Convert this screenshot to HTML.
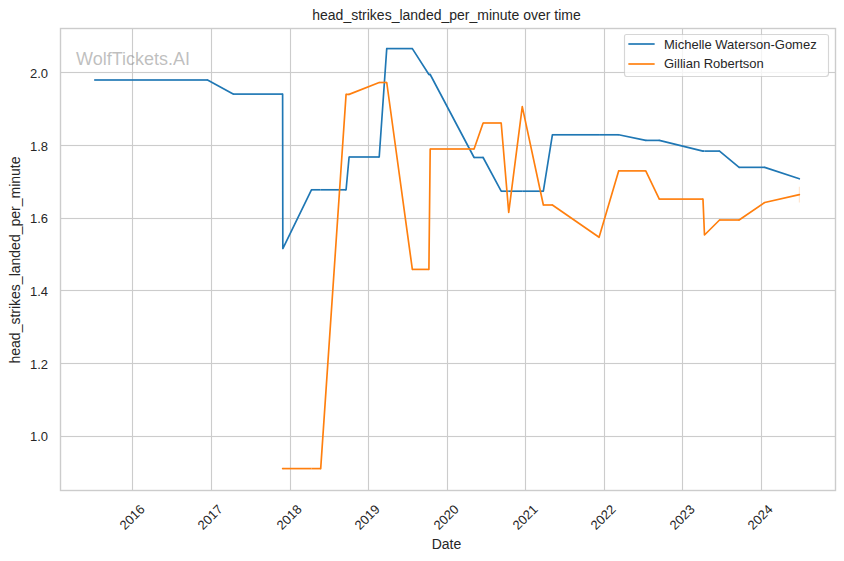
<!DOCTYPE html>
<html lang="en">
<head>
<meta charset="utf-8">
<title>head_strikes_landed_per_minute over time</title>
<style>
html,body{margin:0;padding:0;background:#ffffff;}
body{width:844px;height:561px;overflow:hidden;font-family:"Liberation Sans",sans-serif;}
svg{display:block;}
svg text{font-family:"Liberation Sans",sans-serif;}
</style>
</head>
<body>
<svg width="844" height="561" viewBox="0 0 844 561" role="img" aria-labelledby="ct cd">
<title id="ct">head_strikes_landed_per_minute over time</title>
<desc id="cd">Line chart (WolfTickets.AI). X axis: Date, 2016 to 2024. Y axis: head_strikes_landed_per_minute, 1.0 to 2.0. Series: Michelle Waterson-Gomez (blue), Gillian Robertson (orange).</desc>
<rect width="844" height="561" fill="#ffffff"/>
<g id="grid" fill="none" stroke="#cccccc" stroke-width="1.111">
<path d="M132.5 490V28"/>
<path d="M211.5 490V28"/>
<path d="M290.5 490V28"/>
<path d="M368.5 490V28"/>
<path d="M447.5 490V28"/>
<path d="M525.5 490V28"/>
<path d="M604.5 490V28"/>
<path d="M682.5 490V28"/>
<path d="M761.5 490V28"/>
<rect x="60" y="435.9444" width="775" height="1.1111" fill="#cccccc" stroke="none"/>
<rect x="60" y="362.9444" width="775" height="1.1111" fill="#cccccc" stroke="none"/>
<rect x="60" y="289.9444" width="775" height="1.1111" fill="#cccccc" stroke="none"/>
<rect x="60" y="217.9444" width="775" height="1.1111" fill="#cccccc" stroke="none"/>
<rect x="60" y="144.9444" width="775" height="1.1111" fill="#cccccc" stroke="none"/>
<rect x="60" y="71.9444" width="775" height="1.1111" fill="#cccccc" stroke="none"/>
</g>
<g id="ticklabels">
<text id="xtick_1" x="30" y="0" font-size="13" fill="#262626" text-anchor="end" transform="translate(124.293 531.293) rotate(-45)">2016</text>
<text id="xtick_2" x="30" y="0" font-size="13" fill="#262626" text-anchor="end" transform="translate(202.293 531.293) rotate(-45)">2017</text>
<text id="xtick_3" x="30" y="0" font-size="13" fill="#262626" text-anchor="end" transform="translate(281.293 531.293) rotate(-45)">2018</text>
<text id="xtick_4" x="30" y="0" font-size="13" fill="#262626" text-anchor="end" transform="translate(359.293 531.293) rotate(-45)">2019</text>
<text id="xtick_5" x="30" y="0" font-size="13" fill="#262626" text-anchor="end" transform="translate(438.293 531.293) rotate(-45)">2020</text>
<text id="xtick_6" x="30" y="0" font-size="13" fill="#262626" text-anchor="end" transform="translate(517.293 531.293) rotate(-45)">2021</text>
<text id="xtick_7" x="30" y="0" font-size="13" fill="#262626" text-anchor="end" transform="translate(595.293 531.293) rotate(-45)">2022</text>
<text id="xtick_8" x="30" y="0" font-size="13" fill="#262626" text-anchor="end" transform="translate(674.293 531.293) rotate(-45)">2023</text>
<text id="xtick_9" x="30" y="0" font-size="13" fill="#262626" text-anchor="end" transform="translate(752.293 531.293) rotate(-45)">2024</text>
<text id="ytick_1" x="48" y="441" font-size="13" fill="#262626" text-anchor="end">1.0</text>
<text id="ytick_2" x="48" y="369" font-size="13" fill="#262626" text-anchor="end">1.2</text>
<text id="ytick_3" x="48" y="296" font-size="13" fill="#262626" text-anchor="end">1.4</text>
<text id="ytick_4" x="48" y="223" font-size="13" fill="#262626" text-anchor="end">1.6</text>
<text id="ytick_5" x="48" y="151" font-size="13" fill="#262626" text-anchor="end">1.8</text>
<text id="ytick_6" x="48" y="78" font-size="13" fill="#262626" text-anchor="end">2.0</text>
<text id="xlabel" x="446.5" y="549" font-size="14" fill="#262626" text-anchor="middle">Date</text>
<text id="ylabel" x="0" y="0" font-size="14" fill="#262626" text-anchor="middle" transform="translate(20 260) rotate(-90)">head_strikes_landed_per_minute</text>
</g>
<path id="ciband" d="M799.356 186.796 L799.356 202.396 L799.356 186.796 L799.356 186.796 L799.356 186.796Z" fill="#ff7f0e" fill-opacity="0.2" stroke="#ff7f0e" stroke-opacity="0.2" stroke-width="1.111" stroke-linejoin="miter"/>
<g id="series0" fill="#1f77b4" stroke="#1f77b4" stroke-width="1.667" stroke-linecap="round" stroke-linejoin="round">
<rect stroke="none" x="94.161" y="79.1622" width="113.377" height="1.6667"/>
<path fill="none" d="M207.538 79.996 L233.138 94.096"/>
<rect stroke="none" x="233.138" y="93.2622" width="49.48" height="1.6667"/>
<path fill="none" d="M282.618 94.096 L282.833 248.546 L311.445 189.796"/>
<rect stroke="none" x="311.445" y="188.9622" width="9.251" height="1.6667"/>
<rect stroke="none" x="320.695" y="188.9622" width="25.385" height="1.6667"/>
<path fill="none" d="M346.081 189.796 L349.092 156.996"/>
<rect stroke="none" x="349.092" y="156.1622" width="30.118" height="1.6667"/>
<path fill="none" d="M379.21 156.996 L386.74 48.596"/>
<rect stroke="none" x="386.74" y="47.7622" width="25.6" height="1.6667"/>
<path fill="none" d="M412.34 48.596 L428.905 74.496"/>
<rect stroke="none" x="428.905" y="73.6622" width="1.291" height="1.6667"/>
<path fill="none" d="M430.196 74.496 L474.082 157.496"/>
<rect stroke="none" x="474.082" y="156.6622" width="9.035" height="1.6667"/>
<path fill="none" d="M483.117 157.496 L501.188 191.196"/>
<rect stroke="none" x="501.188" y="190.3622" width="7.529" height="1.6667"/>
<rect stroke="none" x="508.718" y="190.3622" width="13.553" height="1.6667"/>
<rect stroke="none" x="522.271" y="190.3622" width="21.083" height="1.6667"/>
<path fill="none" d="M543.353 191.196 L552.389 134.796"/>
<rect stroke="none" x="552.389" y="133.9622" width="46.683" height="1.6667"/>
<rect stroke="none" x="599.072" y="133.9622" width="19.577" height="1.6667"/>
<path fill="none" d="M618.648 134.796 L645.754 140.396"/>
<rect stroke="none" x="645.754" y="139.5622" width="13.553" height="1.6667"/>
<path fill="none" d="M659.307 140.396 L702.979 151.096"/>
<rect stroke="none" x="702.979" y="150.2622" width="1.506" height="1.6667"/>
<rect stroke="none" x="704.484" y="150.2622" width="15.059" height="1.6667"/>
<path fill="none" d="M719.543 151.096 L739.12 167.346"/>
<rect stroke="none" x="739.12" y="166.5122" width="25.6" height="1.6667"/>
<path fill="none" d="M764.72 167.346 L799.356 178.796"/>
</g>
<g id="series1" fill="#ff7f0e" stroke="#ff7f0e" stroke-width="1.667" stroke-linecap="round" stroke-linejoin="round">
<path fill="none" d="M282.618 468.596 L282.833 468.596"/>
<rect stroke="none" x="282.833" y="467.7622" width="28.612" height="1.6667"/>
<rect stroke="none" x="311.445" y="467.7622" width="9.251" height="1.6667"/>
<path fill="none" d="M320.695 468.596 L346.081 94.396"/>
<rect stroke="none" x="346.081" y="93.5622" width="3.012" height="1.6667"/>
<path fill="none" d="M349.092 94.396 L379.21 82.496"/>
<rect stroke="none" x="379.21" y="81.6622" width="7.529" height="1.6667"/>
<path fill="none" d="M386.74 82.496 L412.34 269.396"/>
<rect stroke="none" x="412.34" y="268.5622" width="16.565" height="1.6667"/>
<path fill="none" d="M428.905 269.396 L430.196 148.996"/>
<rect stroke="none" x="430.196" y="148.1622" width="43.886" height="1.6667"/>
<path fill="none" d="M474.082 148.996 L483.117 122.996"/>
<rect stroke="none" x="483.117" y="122.1622" width="18.071" height="1.6667"/>
<path fill="none" d="M501.188 122.996 L508.718 212.496 L522.271 106.696 L543.353 204.996"/>
<rect stroke="none" x="543.353" y="204.1622" width="9.035" height="1.6667"/>
<path fill="none" d="M552.389 204.996 L599.072 237.296 L618.648 170.896"/>
<rect stroke="none" x="618.648" y="170.0622" width="27.106" height="1.6667"/>
<path fill="none" d="M645.754 170.896 L659.307 199.096"/>
<rect stroke="none" x="659.307" y="198.2622" width="43.671" height="1.6667"/>
<path fill="none" d="M702.979 199.096 L704.484 234.996 L719.543 219.996"/>
<rect stroke="none" x="719.543" y="219.1622" width="19.577" height="1.6667"/>
<path fill="none" d="M739.12 219.996 L764.72 202.496 L799.356 194.596"/>
</g>
<rect id="spines" x="60.5" y="28.5" width="775" height="462" fill="none" stroke="#cccccc" stroke-width="1.389"/>
<text id="watermark" x="76" y="65" font-size="18" fill="#808080" fill-opacity="0.5">WolfTickets.AI</text>
<text id="title" x="446.5" y="20" font-size="14" fill="#262626" text-anchor="middle">head_strikes_landed_per_minute over time</text>
<g id="legend">
<path d="M626.5 76.5L825.5 76.5Q828.5 76.5 828.5 73.5L828.5 36.5Q828.5 34.5 825.5 34.5L626.5 34.5Q624.5 34.5 624.5 36.5L624.5 73.5Q624.5 76.5 626.5 76.5Z" fill="#ffffff" stroke="#cccccc" stroke-width="1.111" opacity="0.8"/>
<rect x="628.35" y="43.1667" width="26.3" height="1.6667" fill="#1f77b4"/>
<rect x="628.35" y="63.1667" width="26.3" height="1.6667" fill="#ff7f0e"/>
<text id="legtext_0" x="664" y="49" font-size="13" fill="#262626">Michelle Waterson-Gomez</text>
<text id="legtext_1" x="664" y="68" font-size="13" fill="#262626">Gillian Robertson</text>
</g>
</svg>
</body>
</html>
